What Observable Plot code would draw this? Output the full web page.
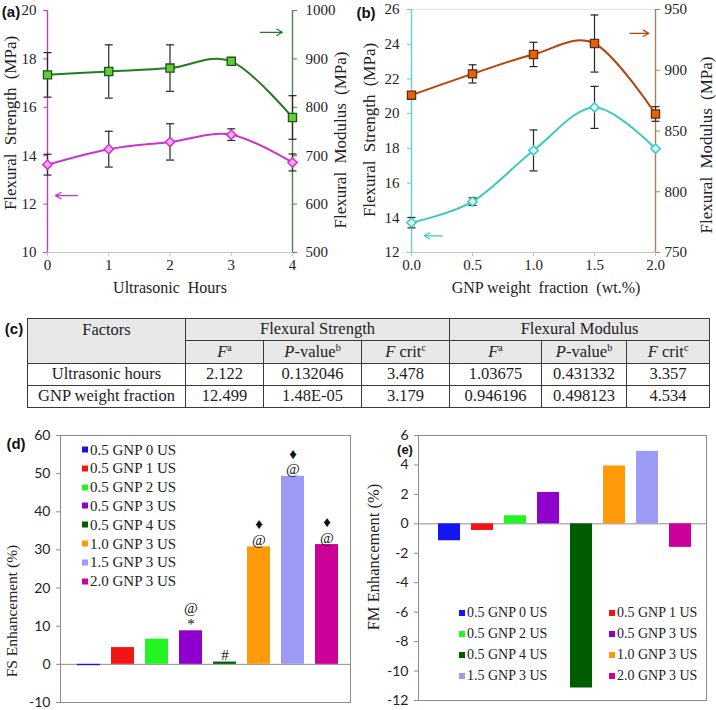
<!DOCTYPE html>
<html><head><meta charset="utf-8">
<script src="https://cdn.jsdelivr.net/npm/d3@7"></script>
<script src="https://cdn.jsdelivr.net/npm/@observablehq/plot@0.6"></script>
<style>
body{margin:0;background:#fff;}
#root{position:relative;width:716px;height:710px;overflow:hidden;font-family:'Liberation Serif','Times New Roman',serif;color:#222;}
.box{position:absolute;}
.lbl{position:absolute;white-space:pre;line-height:1;font-family:'Liberation Serif','Times New Roman',serif;}
.panel{font-family:'Liberation Sans',Arial,sans-serif;font-weight:bold;font-size:15px;color:#111;}
.leg{position:absolute;display:flex;align-items:center;white-space:pre;line-height:1;transform:translateY(-50%);font-family:'Liberation Serif','Times New Roman',serif;}
.leg span.sw{display:inline-block;width:6px;height:6px;margin-right:2px;}
#tbl{position:absolute;left:27px;top:318px;border-collapse:collapse;font-size:16.5px;table-layout:fixed;font-family:'Liberation Serif','Times New Roman',serif;}
#tbl td{border:1.5px solid #3a3a3a;text-align:center;padding:0;line-height:1;font-family:'Liberation Serif','Times New Roman',serif;}
#tbl tr.h td{background:#e8e8e8;}
#tbl sup{font-size:10px;vertical-align:top;position:relative;top:-1px;}
</style></head>
<body><div id="root"></div>
<script>
// ---------------- data ----------------
const usHours = [0, 1, 2, 3, 4];
const usFS = [13.63, 14.27, 14.57, 14.87, 13.72];
const usFSErr = [0.43, 0.74, 0.75, 0.24, 0.35];
const usFM = [867, 874, 881, 895, 779];
const usFMErr = [46, 55, 48, 4, 45];

const gnpFraction = [0, 0.5, 1.0, 1.5, 2.0];
const gnpFS = [13.72, 14.93, 17.88, 20.36, 17.98];
const gnpFSErr = [0.3, 0.22, 1.18, 1.21, 0];
const gnpFM = [879.5, 897, 913, 922, 864];
const gnpFMErr = [2, 7.5, 10, 23.5, 6];

const samples = ["0.5 GNP 0 US", "0.5 GNP 1 US", "0.5 GNP 2 US", "0.5 GNP 3 US",
                 "0.5 GNP 4 US", "1.0 GNP 3 US", "1.5 GNP 3 US", "2.0 GNP 3 US"];
const sampleColors = ["#1414f5", "#f51414", "#22f522", "#9000cc", "#005c00", "#ff9a0a", "#9c9cf7", "#cc0099"];
const fsEnhancement = [-0.35, 4.4, 6.6, 8.8, 0.6, 30.8, 49.3, 31.4];
const fsSignificance = ["", "", "", "@\n*", "#", "\u2666\n@", "\u2666\n@", "\u2666\n@"];
const fmEnhancement = [-1.15, -0.45, 0.55, 2.13, -11.15, 3.93, 4.92, -1.6];

const tableFactors = ["Ultrasonic hours", "GNP weight fraction"];
const tableFSF = ["2.122", "12.499"];
const tableFSP = ["0.132046", "1.48E-05"];
const tableFSCrit = ["3.478", "3.179"];
const tableFMF = ["1.03675", "0.946196"];
const tableFMP = ["0.431332", "0.498123"];
const tableFMCrit = ["3.357", "4.534"];

// ---------------- helpers ----------------
const root = document.getElementById("root");
function place(el, left, top) {
  const d = document.createElement("div");
  d.className = "box"; d.style.left = left + "px"; d.style.top = top + "px";
  d.appendChild(el); root.appendChild(d); return d;
}
function label(txt, x, y, opts = {}) {
  const el = document.createElement("div");
  el.className = "lbl" + (opts.cls ? " " + opts.cls : "");
  el.textContent = txt;
  el.style.left = x + "px"; el.style.top = y + "px";
  if (opts.size) el.style.fontSize = opts.size + "px";
  if (opts.ws != null) el.style.wordSpacing = opts.ws + "px";
  el.style.transform = "translate(-50%,-50%)" + (opts.rotate ? ` rotate(${opts.rotate}deg)` : "");
  root.appendChild(el);
}
const capSymbol = {draw(ctx) { ctx.moveTo(-4, 0); ctx.lineTo(4, 0); }};
const serif = "'Liberation Serif', 'Times New Roman', serif";

function dualPanel(o) {
  const k = (o.fsDomain[1] - o.fsDomain[0]) / (o.fmDomain[1] - o.fmDomain[0]);
  const toFS = v => o.fsDomain[0] + (v - o.fmDomain[0]) * k;
  const toFM = v => o.fmDomain[0] + (v - o.fsDomain[0]) / k;
  const rows = o.x.map((xv, i) => ({
    x: xv, fs: o.fs[i], fsLo: o.fs[i] - o.fsErr[i], fsHi: o.fs[i] + o.fsErr[i], fsE: o.fsErr[i],
    fm: toFS(o.fm[i]), fmLo: toFS(o.fm[i] - o.fmErr[i]), fmHi: toFS(o.fm[i] + o.fmErr[i]), fmE: o.fmErr[i]
  }));
  const errs = [];
  rows.forEach(r => {
    if (r.fsE > 0) errs.push({x: r.x, lo: r.fsLo, hi: r.fsHi});
    if (r.fmE > 0) errs.push({x: r.x, lo: r.fmLo, hi: r.fmHi});
  });
  const caps = errs.flatMap(e => [{x: e.x, y: e.lo}, {x: e.x, y: e.hi}]);
  const arrows = o.arrows.map(a => ({x1: a.x1, x2: a.x2, y: a.series === "fm" ? toFS(a.v) : a.v,
                                     color: a.series === "fm" ? o.c.fmLine : o.c.fsLine}));
  const x0 = o.x[0], x1 = o.x[o.x.length - 1];
  return Plot.plot({
    width: o.width, height: o.height,
    marginLeft: o.m[0], marginRight: o.m[1], marginTop: o.m[2], marginBottom: o.m[3],
    x: {domain: [x0, x1]}, y: {domain: o.fsDomain},
    style: {background: "transparent", fontFamily: serif, fontSize: "15px", overflow: "visible", color: "#222"},
    marks: [
      Plot.ruleY([o.fsDomain[0]], {stroke: "#c4c4c4"}),
      o.topLine ? Plot.ruleY([o.fsDomain[1]], {stroke: "#e2e2e2"}) : null,
      Plot.axisX({ticks: o.x, tickFormat: o.xFormat, tickSize: 4, tickPadding: 3, stroke: "#c4c4c4", fill: "#222", fontSize: 15, fontFamily: serif, label: null}),
      Plot.ruleX([x0], {stroke: o.c.fsAxis, strokeWidth: 1.4}),
      Plot.axisY({anchor: "left", ticks: o.fsTicks, tickFormat: d => String(d), tickSize: 4, tickPadding: o.padL, stroke: o.c.fsAxis, fill: "#222", fontSize: 15, fontFamily: serif, label: null}),
      Plot.ruleX([x1], {stroke: o.c.fmAxis, strokeWidth: 1.4}),
      Plot.axisY({anchor: "right", ticks: o.fmTicks.map(toFS), tickFormat: d => String(Math.round(toFM(d))), tickSize: 4, tickPadding: o.padR, stroke: o.c.fmAxis, fill: "#222", fontSize: 15, fontFamily: serif, label: null}),
      Plot.line(rows, {x: "x", y: "fm", curve: "cardinal", tension: 0, stroke: o.c.fmLine, strokeWidth: 2}),
      Plot.line(rows, {x: "x", y: "fs", curve: "cardinal", tension: 0, stroke: o.c.fsLine, strokeWidth: 2}),
      Plot.ruleX(errs, {x: "x", y1: "lo", y2: "hi", stroke: "#262626", strokeWidth: 1.2}),
      Plot.dot(caps, {x: "x", y: "y", symbol: capSymbol, stroke: "#262626", fill: "none", strokeWidth: 1.2}),
      Plot.dot(rows, {x: "x", y: "fm", symbol: "square", r: 4.6, fill: o.c.fmFill, stroke: o.c.fmStroke, strokeWidth: 1.3}),
      Plot.dot(rows, {x: "x", y: "fs", symbol: "diamond2", r: 4.2, fill: o.c.fsFill, stroke: o.c.fsLine, strokeWidth: 1.5}),
      Plot.arrow(arrows, {x1: "x1", x2: "x2", y1: "y", y2: "y", stroke: "color", strokeWidth: 1.2, headLength: 8})
    ]
  });
}

function barPanel(o) {
  const rows = samples.map((s, i) => ({sample: s, value: o.values[i], mark: o.marks ? o.marks[i] : ""}));
  return Plot.plot({
    width: o.width, height: o.height,
    marginLeft: o.m[0], marginRight: o.m[1], marginTop: o.m[2], marginBottom: o.m[3],
    x: {domain: samples, range: o.xRange, paddingInner: 0.33, paddingOuter: 0.165, axis: null},
    y: {domain: o.yDomain},
    color: {domain: samples, range: sampleColors},
    style: {background: "transparent", fontFamily: serif, fontSize: "14px", overflow: "visible", color: "#222"},
    marks: [
      Plot.frame({stroke: "#8c8c8c"}),
      Plot.ruleY([0], {stroke: "#8c8c8c"}),
      Plot.axisY({ticks: o.yTicks, tickFormat: d => String(d), tickSize: 4, tickPadding: 6, stroke: "#8c8c8c", fill: "#222",
                  fontFamily: "Lato, 'Liberation Sans', sans-serif", fontSize: 14, label: null}),
      Plot.barY(rows, {x: "sample", y: "value", fill: "sample"}),
      o.marks ? Plot.text(rows, {x: "sample", y: d => Math.max(0, d.value), text: "mark", lineAnchor: "bottom", dy: -2,
                 fontSize: 15, lineHeight: 1.05, fontFamily: "'Liberation Serif', 'DejaVu Serif', serif", fill: "#111"}) : null
    ]
  });
}

// ---------------- panel (a) ----------------
place(dualPanel({
  width: 358, height: 300, m: [47, 66, 10, 48],
  x: usHours, xFormat: d => String(d), fs: usFS, fsErr: usFSErr, fm: usFM, fmErr: usFMErr,
  fsDomain: [10, 20], fmDomain: [500, 1000], fsTicks: d3.range(10, 21, 2), fmTicks: d3.range(500, 1001, 100),
  padL: 7, padR: 9, topLine: false,
  c: {fsAxis: "#c040c0", fsLine: "#cc33cc", fsFill: "#f6aaf6", fmAxis: "#4e844e", fmLine: "#237a23", fmFill: "#62cc35", fmStroke: "#1b561b"},
  arrows: [{series: "fs", x1: 0.49, x2: 0.13, v: 12.35}, {series: "fm", x1: 3.475, x2: 3.835, v: 955}]
}), 0, 0);

// ---------------- panel (b) ----------------
place(dualPanel({
  width: 360, height: 300, m: [55, 61, 9, 48],
  x: gnpFraction, xFormat: d3.format(".1f"), fs: gnpFS, fsErr: gnpFSErr, fm: gnpFM, fmErr: gnpFMErr,
  fsDomain: [12, 26], fmDomain: [750, 950], fsTicks: d3.range(12, 27, 2), fmTicks: d3.range(750, 951, 50),
  padL: 8, padR: 5, topLine: true,
  c: {fsAxis: "#5fd0cb", fsLine: "#3cc9c2", fsFill: "#d8f7f4", fmAxis: "#a9805f", fmLine: "#b5440f", fmFill: "#e2620d", fmStroke: "#6b2a00"},
  arrows: [{series: "fs", x1: 0.252, x2: 0.104, v: 12.96}, {series: "fm", x1: 1.789, x2: 1.945, v: 930.4}]
}), 356, 0);

// titles (a) (b)
label("Flexural Strength (MPa)", 10, 123, {rotate: -90, size: 17, ws: 4});
label("Flexural Modulus (MPa)", 340, 140, {rotate: -90, size: 17, ws: 4});
label("Ultrasonic  Hours", 170, 288, {size: 16});
label("Flexural Strength (MPa)", 369, 130, {rotate: -90, size: 17, ws: 4});
label("Flexural Modulus (MPa)", 706, 145, {rotate: -90, size: 17, ws: 4});
label("GNP weight  fraction  (wt.%)", 546, 288, {size: 16});

// ---------------- table (c) ----------------
(function () {
  const t = document.createElement("table"); t.id = "tbl";
  const widths = [158, 78, 98, 88, 92, 85, 83];
  const cg = document.createElement("colgroup");
  widths.forEach(w => { const c = document.createElement("col"); c.style.width = w + "px"; cg.appendChild(c); });
  t.appendChild(cg);
  const sub = `<td><i>F</i><sup>a</sup></td><td><i>P</i>-value<sup>b</sup></td><td><i>F</i> crit<sup>c</sup></td>`;
  t.innerHTML += `<tr class="h" style="height:22px"><td rowspan="2" style="vertical-align:top;padding-top:3px">Factors</td><td colspan="3">Flexural Strength</td><td colspan="3">Flexural Modulus</td></tr>`
    + `<tr class="h" style="height:23px">${sub}${sub}</tr>`;
  tableFactors.forEach((f, i) => {
    t.innerHTML += `<tr style="height:22px"><td>${f}</td><td>${tableFSF[i]}</td><td>${tableFSP[i]}</td><td>${tableFSCrit[i]}</td><td>${tableFMF[i]}</td><td>${tableFMP[i]}</td><td>${tableFMCrit[i]}</td></tr>`;
  });
  t.style.width = d3.sum(widths) + "px";
  root.appendChild(t);
})();

// ---------------- panel (d) ----------------
place(barPanel({
  width: 356, height: 285, m: [60, 6, 10, 8], xRange: [70.6, 343.8],
  values: fsEnhancement, marks: fsSignificance, yDomain: [-10, 60], yTicks: d3.range(-10, 61, 10)
}), 0, 425);
label("FS Enhancement (%)", 12, 611, {rotate: -90, size: 15.5});

// ---------------- panel (e) ----------------
place(barPanel({
  width: 360, height: 285, m: [62, 10, 10, 10], xRange: [73, 344.7],
  values: fmEnhancement, marks: null, yDomain: [-12, 6], yTicks: d3.range(-12, 7, 2)
}), 356, 425);
label("FM Enhancement (%)", 374, 557, {rotate: -90, size: 16.5});

// legends
function legendItem(i, left, top, size) {
  const d = document.createElement("div");
  d.className = "leg"; d.style.left = left + "px"; d.style.top = top + "px"; d.style.fontSize = size + "px";
  d.innerHTML = `<span class="sw" style="background:${sampleColors[i]}"></span>${samples[i]}`;
  root.appendChild(d);
}
samples.forEach((s, i) => legendItem(i, 82, 449.5 + i * 18.8, 15));
samples.forEach((s, i) => legendItem(i, i % 2 === 0 ? 459 : 609, 613 + Math.floor(i / 2) * 21, 14));

// panel letters
label("(a)", 11, 11, {cls: "panel"});
label("(b)", 366, 12, {cls: "panel"});
label("(c)", 14, 328, {cls: "panel"});
label("(d)", 16, 443, {cls: "panel"});
label("(e)", 405, 449, {cls: "panel", size: 13});
</script>
</body></html>
